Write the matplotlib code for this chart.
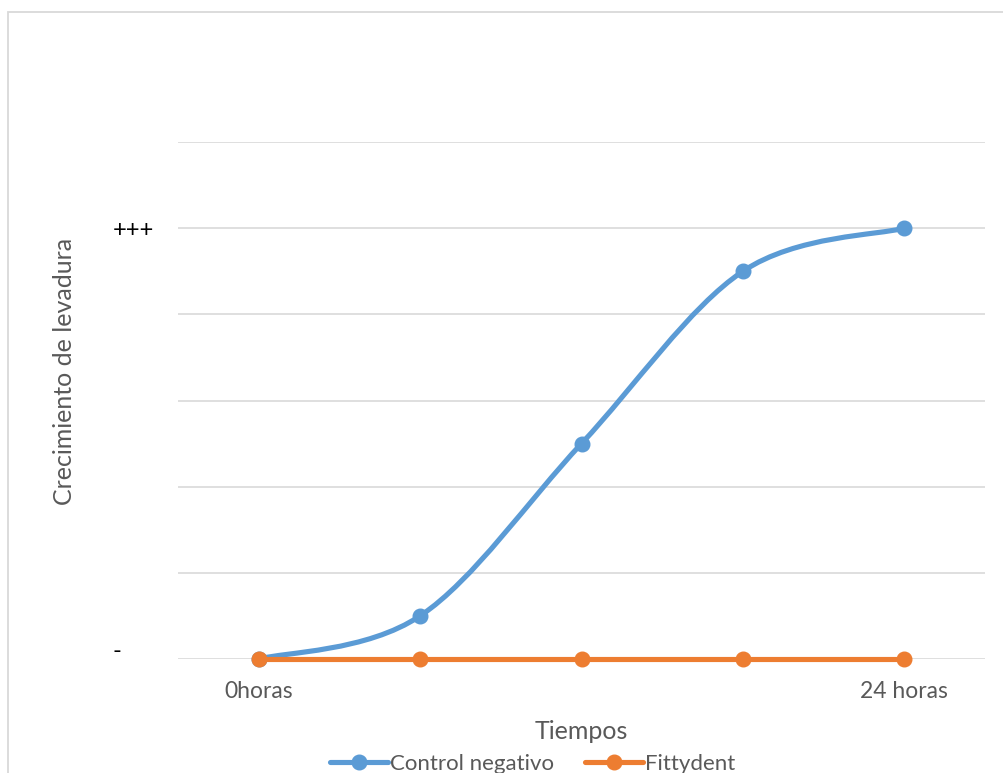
import matplotlib
matplotlib.use("Agg")
import matplotlib.pyplot as plt
import matplotlib.transforms as mtransforms
from matplotlib.path import Path
from matplotlib.patches import PathPatch, Rectangle
from matplotlib.lines import Line2D
import numpy as np

plt.rcParams['font.family'] = ['Lato', 'DejaVu Sans']

# Categories and series
categories = ["0horas", "", "", "", "24 horas"]
control_negativo = [0, 0.5, 2.5, 4.5, 5]
fittydent = [0, 0, 0, 0, 0]
y_ticks = [0, 5]
y_tick_labels = ["-", "+++"]

BLUE = "#5B9BD5"
ORANGE = "#ED7D31"
GRID = "#D9D9D9"
TEXT = "#595959"

fig = plt.figure(figsize=(10.04, 7.73), dpi=100)
W, H = 1004, 773
ax = fig.add_axes([178 / W, 1 - 659 / H, (985 - 178) / W, (659 - 142) / H])

x = np.arange(len(categories))


def smooth_path(xs, ys):
    """Catmull-Rom style Bezier path through the points (Excel smoothed line)."""
    pts = np.column_stack([xs, ys]).astype(float)
    n = len(pts)
    verts = [pts[0]]
    codes = [Path.MOVETO]
    for i in range(n - 1):
        p0 = pts[i - 1] if i > 0 else pts[i]
        p1 = pts[i]
        p2 = pts[i + 1]
        p3 = pts[i + 2] if i + 2 < n else pts[i + 1]
        c1 = p1 + (p2 - p0) / 6.0
        c2 = p2 - (p3 - p1) / 6.0
        verts += [c1, c2, p2]
        codes += [Path.CURVE4] * 3
    return Path(verts, codes)


lw = 3.7
ms = 10.5

ax.add_patch(PathPatch(smooth_path(x, control_negativo), facecolor="none",
                       edgecolor=BLUE, lw=lw, capstyle="round", zorder=3,
                       clip_on=False))
ax.plot(x, control_negativo, linestyle="none", marker="o", ms=ms,
        color=BLUE, zorder=4, clip_on=False)

ax.plot(x, fittydent, color=ORANGE, lw=lw, marker="o", ms=ms,
        solid_capstyle="round", zorder=5, clip_on=False)

ax.set_xlim(-0.5, len(categories) - 0.5)
ax.set_ylim(0, 6)
ax.set_yticks(np.arange(0, 7, 1))
ax.yaxis.grid(True, color=GRID, lw=1.2)
ax.set_axisbelow(True)
for s in ax.spines.values():
    s.set_visible(False)

ax.set_xticks(x)
ax.set_xticklabels(categories, color=TEXT, fontsize=16.5)
ax.tick_params(axis="x", length=0, pad=16)

ylabels = ["" for _ in range(7)]
for v, lab in zip(y_ticks, y_tick_labels):
    ylabels[v] = lab
ax.set_yticklabels(ylabels, color="black", fontsize=17)
ax.tick_params(axis="y", length=0, pad=47)
lift = mtransforms.ScaledTranslation(0, 9 / 100, fig.dpi_scale_trans)
for t in ax.get_yticklabels():
    t.set_horizontalalignment("left")
    if t.get_text() == "-":
        t.set_transform(t.get_transform() + lift)

ax.set_xlabel("Tiempos", color=TEXT, fontsize=18)
ax.xaxis.set_label_coords(0.5, -0.118)
ax.set_ylabel("Crecimiento de levadura", color=TEXT, fontsize=18)
ax.yaxis.set_label_coords(-0.1264, 0.557)

handles = [
    Line2D([], [], color=BLUE, lw=lw, marker="o", ms=ms, solid_capstyle="round"),
    Line2D([], [], color=ORANGE, lw=lw, marker="o", ms=ms, solid_capstyle="round"),
]
fig.legend(handles, ["Control negativo", "Fittydent"], loc="center",
           bbox_to_anchor=(533 / W, 1 - 764 / H), ncol=2, frameon=False,
           fontsize=16, handlelength=2.6, handletextpad=0.1,
           columnspacing=1.4, labelcolor=TEXT)

# Chart-area border
fig.add_artist(Rectangle((8 / W, -0.05), 1.1, 1 - 12 / H + 0.05,
                         transform=fig.transFigure, fill=False,
                         edgecolor=GRID, lw=1.3, clip_on=False))

fig.savefig("out.png", dpi=100)
